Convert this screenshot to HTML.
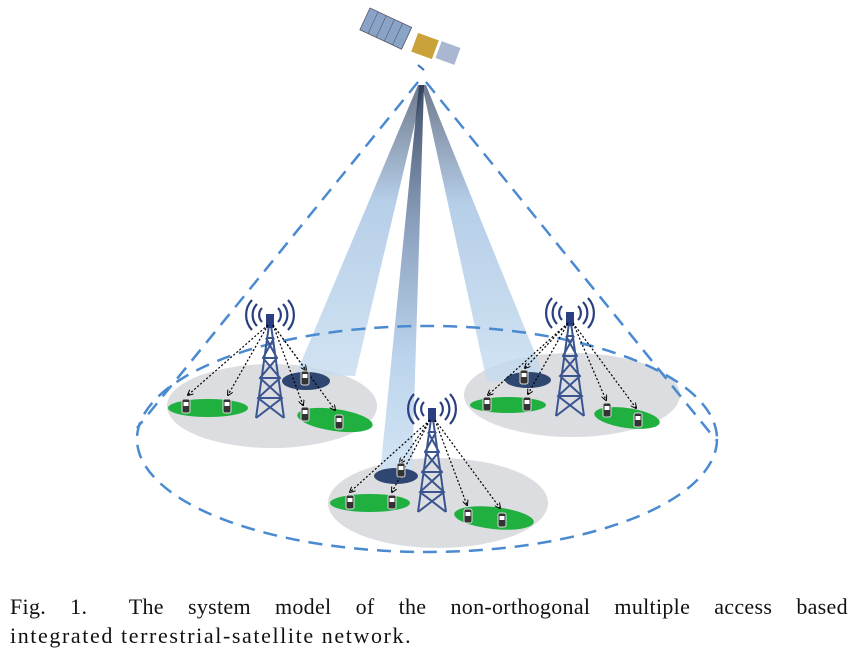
<!DOCTYPE html>
<html><head><meta charset="utf-8"><style>
body{margin:0;background:#fff;width:850px;height:659px;overflow:hidden;position:relative}
.cap{position:absolute;left:10px;width:838px;font-family:"Liberation Serif",serif;font-size:22px;letter-spacing:1.6px;color:#111;white-space:nowrap}
</style></head><body>
<svg width="850" height="590" style="position:absolute;left:0;top:0">
<defs>
<linearGradient id="bm" x1="0" y1="0" x2="0" y2="1">
<stop offset="0" stop-color="#2a3a55"/><stop offset="0.35" stop-color="#7d94b4"/><stop offset="0.7" stop-color="#b4cfea"/><stop offset="1" stop-color="#cfe2f3"/></linearGradient>
<linearGradient id="bm2" x1="0" y1="0" x2="0" y2="1">
<stop offset="0" stop-color="#4a5870"/><stop offset="0.4" stop-color="#a4c2e2"/><stop offset="1" stop-color="#c6dcf0"/></linearGradient>
<g id="tower">
<path d="M0,0 L-14,100 M0,0 L14,100 M-4,20 L4,20 M-7,40 L7,40 M-10,60 L10,60 M-12,80 L12,80 M-4,20 L7,40 L-10,60 L12,80 L-14,100 M4,20 L-7,40 L10,60 L-12,80 L14,100" stroke="#3a5590" stroke-width="2" fill="none"/>
<rect x="-4" y="-4" width="8" height="14" fill="#2a3f80"/>
<path d="M-8,-10 a10,10 0 0,0 0,14 M-13,-14 a16,16 0 0,0 0,22 M-18,-18 a22,22 0 0,0 0,30 M8,-10 a10,10 0 0,1 0,14 M13,-14 a16,16 0 0,1 0,22 M18,-18 a22,22 0 0,1 0,30" stroke="#2a3f80" stroke-width="2.2" fill="none"/>
</g>
<g id="ph"><rect x="-4" y="-7" width="8" height="14" rx="2" fill="#333" stroke="#ddd" stroke-width="1"/><rect x="-2.5" y="-4" width="5" height="4" fill="#fff"/></g>
<marker id="ar" viewBox="0 0 6 6" refX="5" refY="3" markerWidth="5" markerHeight="5" orient="auto"><path d="M0,0 L6,3 L0,6" fill="none" stroke="#000" stroke-width="1"/></marker>
</defs>
<ellipse cx="272" cy="406" rx="105" ry="42" fill="#dcdde0"/>
<ellipse cx="572" cy="395" rx="108" ry="42" fill="#dcdde0"/>
<ellipse cx="438" cy="503" rx="110" ry="45" fill="#dcdde0"/>
<polygon points="418,85 424,85 355,376 296,374" fill="url(#bm2)" opacity="0.8"/>
<polygon points="422,85 426,85 545,378 487,382" fill="url(#bm2)" opacity="0.8"/>
<polygon points="419,85 424,85 412,474 380,474" fill="url(#bm)" opacity="0.9"/>
<ellipse cx="306" cy="381" rx="24" ry="9" fill="#2f4670"/>
<ellipse cx="528" cy="380" rx="23" ry="8" fill="#2f4670"/>
<ellipse cx="396" cy="476" rx="22" ry="8" fill="#2f4670"/>
<ellipse cx="208" cy="408" rx="40" ry="9" fill="#1fb040"/>
<ellipse cx="335" cy="420" rx="38" ry="11" fill="#1fb040" transform="rotate(8 335 420)"/>
<ellipse cx="508" cy="405" rx="38" ry="8" fill="#1fb040"/>
<ellipse cx="627" cy="418" rx="33" ry="10" fill="#1fb040" transform="rotate(8 627 418)"/>
<ellipse cx="370" cy="503" rx="40" ry="9" fill="#1fb040"/>
<ellipse cx="494" cy="518" rx="40" ry="11" fill="#1fb040" transform="rotate(6 494 518)"/>
<g stroke="#4a8ad0" stroke-width="2.5" fill="none" stroke-dasharray="14,9">
<line x1="418" y1="82" x2="137" y2="428"/>
<line x1="426" y1="82" x2="716" y2="440"/>
<ellipse cx="427" cy="439" rx="290" ry="113"/>
</g>
<use href="#tower" x="270" y="318"/>
<use href="#tower" x="570" y="316"/>
<use href="#tower" x="432" y="412"/>
<g stroke="#000" stroke-width="1.2" stroke-dasharray="2,2" fill="none" marker-end="url(#ar)">
<line x1="268" y1="325" x2="188" y2="395"/><line x1="268" y1="325" x2="228" y2="395"/>
<line x1="273" y1="325" x2="303" y2="405"/><line x1="273" y1="325" x2="335" y2="410"/><line x1="273" y1="325" x2="306" y2="370"/>
<line x1="568" y1="323" x2="488" y2="395"/><line x1="568" y1="323" x2="528" y2="394"/><line x1="568" y1="323" x2="525" y2="368"/>
<line x1="573" y1="323" x2="606" y2="400"/><line x1="573" y1="323" x2="636" y2="408"/>
<line x1="430" y1="420" x2="350" y2="492"/><line x1="430" y1="420" x2="392" y2="492"/><line x1="430" y1="420" x2="400" y2="463"/>
<line x1="435" y1="420" x2="467" y2="505"/><line x1="435" y1="420" x2="500" y2="508"/>
</g>
<g>
<use href="#ph" x="186" y="406"/><use href="#ph" x="227" y="406"/><use href="#ph" x="305" y="378"/><use href="#ph" x="305" y="414"/><use href="#ph" x="339" y="422"/>
<use href="#ph" x="487" y="404"/><use href="#ph" x="527" y="404"/><use href="#ph" x="524" y="377"/><use href="#ph" x="607" y="410"/><use href="#ph" x="638" y="420"/>
<use href="#ph" x="350" y="502"/><use href="#ph" x="392" y="502"/><use href="#ph" x="401" y="470"/><use href="#ph" x="468" y="516"/><use href="#ph" x="502" y="520"/>
</g>
<g transform="translate(370,8) rotate(25)">
<rect x="0" y="0" width="46" height="24" fill="#8aa4c8" stroke="#556" stroke-width="0.8"/>
<path d="M9,0V24M18,0V24M27,0V24M36,0V24" stroke="#556" stroke-width="0.6"/>
</g>
<rect x="414" y="36" width="22" height="20" fill="#c9a23c" transform="rotate(20 425 46)"/>
<rect x="438" y="44" width="20" height="18" fill="#a9b8d0" transform="rotate(20 448 53)"/>
<line x1="418" y1="65" x2="424" y2="70" stroke="#3070c0" stroke-width="2"/>
</svg>
<div class="cap" style="top:594px;display:flex;justify-content:space-between;width:838px;letter-spacing:0.3px"><span>Fig.</span><span>1.&nbsp;&nbsp;&nbsp;</span><span>The</span><span>system</span><span>model</span><span>of</span><span>the</span><span>non-orthogonal</span><span>multiple</span><span>access</span><span>based</span></div>
<div class="cap" style="top:623px;">integrated terrestrial-satellite network.</div>
</body></html>
